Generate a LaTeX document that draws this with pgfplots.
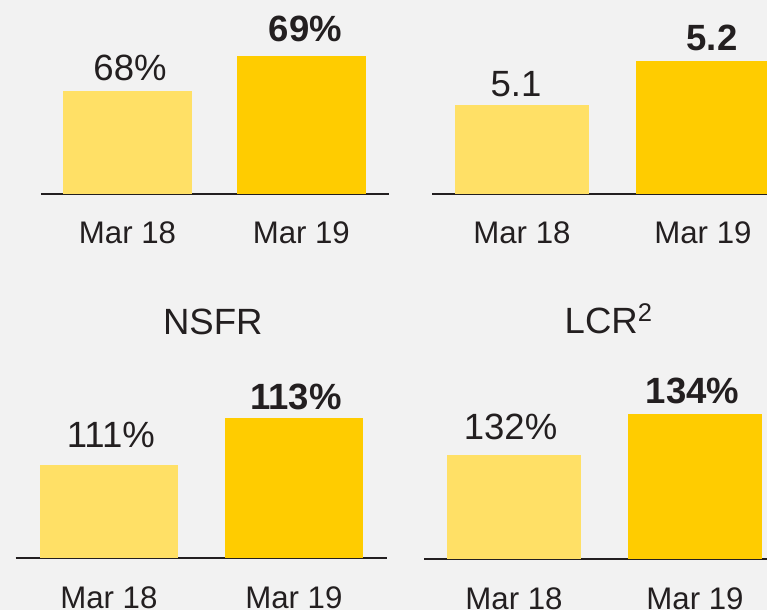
\documentclass[border=0pt]{standalone}
\usepackage{fontspec}
\setmainfont{Liberation Sans}
\usepackage{pgfplots}
\pgfplotsset{compat=1.18}
\definecolor{bg}{RGB}{242,242,242}
\definecolor{barlight}{RGB}{255,224,102}
\definecolor{bardark}{RGB}{255,204,0}
\definecolor{txt}{RGB}{35,31,32}
\newcommand{\valfont}{\fontsize{27.4}{30}\selectfont}
\newcommand{\tickfont}{\fontsize{23.4}{26}\selectfont}

\pgfplotsset{
  panel/.style={
    scale only axis, anchor=south west, clip=false,
    axis x line=bottom, axis y line=none,
    x axis line style={-, line width=1.6pt, draw=txt},
    major tick length=0pt,
    xticklabel style={font=\tickfont, text=txt, anchor=base},
  },
  tickbase/.style={xticklabel style={yshift=-#1}},
  light/.style={ybar, bar shift=0pt, fill=barlight, draw=none,
    every node near coord/.append style={font=\valfont, text=txt, anchor=base}},
  dark/.style={ybar, bar shift=0pt, fill=bardark, draw=none,
    every node near coord/.append style={font=\valfont\bfseries, text=txt, anchor=base}},
  pct/.style={nodes near coords={\pgfmathprintnumber[assume math mode=true]{\pgfplotspointmeta}\%}},
  num/.style={nodes near coords={\pgfmathprintnumber[assume math mode=true,fixed,precision=1]{\pgfplotspointmeta}}},
  lab/.style 2 args={every node near coord/.append style={xshift=#1, yshift=#2}},
}

\begin{document}
\begin{tikzpicture}
\path[use as bounding box] (0,0) rectangle (575.25pt,457.5pt);
\fill[bg] (0,0) rectangle (575.25pt,457.5pt);
\clip (0,0) rectangle (575.25pt,457.5pt);

% top left
\begin{axis}[panel, at={(30.75pt,312pt)}, width=260.8pt, height=145.5pt,
  xmin=41, xmax=388.7, ymin=65.023, ymax=70.614,
  xtick={127.5,301.3}, xticklabels={Mar 18, Mar 19}, tickbase=37pt]
\addplot[light, pct, bar width=129, lab={1.9pt}{8pt}] coordinates {(127.5,68)};
\addplot[dark, pct, bar width=129, lab={3.1pt}{10.7pt}] coordinates {(301.3,69)};
\end{axis}

% top right
\begin{axis}[panel, at={(324.2pt,312pt)}, width=251pt, height=145.5pt,
  xmin=432.3, xmax=767, ymin=4.8977, ymax=5.3386,
  xtick={522,703}, xticklabels={Mar 18, Mar 19}, tickbase=37pt]
\addplot[light, num, bar width=134, lab={-4.5pt}{6.2pt}] coordinates {(522,5.1)};
\addplot[dark, num, bar width=134, lab={6.8pt}{7.7pt}] coordinates {(703,5.2)};
\end{axis}

% NSFR
\begin{axis}[panel, at={(11.8pt,38.8pt)}, width=278.7pt, height=150pt,
  xmin=15.7, xmax=387.3, ymin=107.03, ymax=115.54,
  xtick={108.8,293.8}, xticklabels={Mar 18, Mar 19}, tickbase=37.5pt]
\addplot[light, pct, bar width=137.7, lab={1.5pt}{13.3pt}] coordinates {(108.8,111)};
\addplot[dark, pct, bar width=137.7, lab={1.6pt}{6pt}] coordinates {(293.8,113)};
\end{axis}

% LCR
\begin{axis}[panel, at={(318pt,38pt)}, width=257.25pt, height=150pt,
  xmin=424, xmax=767, ymin=126.91, ymax=136.67,
  xtick={514,695}, xticklabels={Mar 18, Mar 19}, tickbase=37.5pt]
\addplot[light, pct, bar width=134, lab={-2.6pt}{12pt}] coordinates {(514,132)};
\addplot[dark, pct, bar width=134, lab={-1.9pt}{8pt}] coordinates {(695,134)};
\end{axis}

\node[font=\valfont, text=txt, anchor=base] at (159.6pt,206.25pt) {NSFR};
\node[font=\valfont, text=txt, anchor=base] at (456.5pt,207.5pt) {LCR\textsuperscript{2}};
\end{tikzpicture}
\end{document}
